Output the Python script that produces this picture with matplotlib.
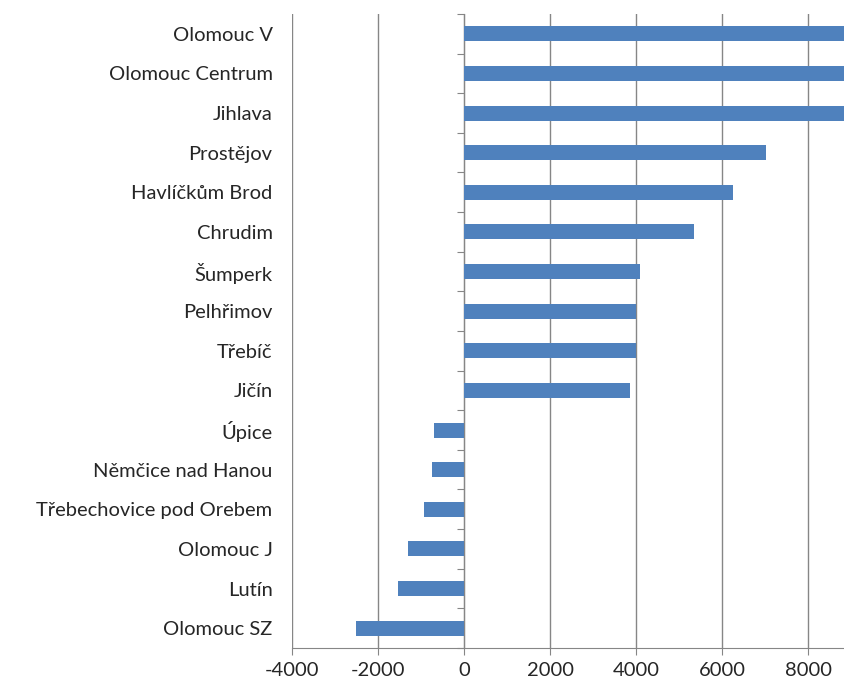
import numpy as np
import matplotlib
matplotlib.use("Agg")
import matplotlib.pyplot as plt

plt.rcParams.update({"font.family": ["Lato", "DejaVu Sans"], "font.size": 14.5})

# categories top -> bottom as shown in the chart
labels = ["Olomouc V", "Olomouc Centrum", "Jihlava", "Prostějov", "Havlíčkům Brod",
          "Chrudim", "Šumperk", "Pelhřimov", "Třebíč", "Jičín", "Úpice",
          "Němčice nad Hanou", "Třebechovice pod Orebem", "Olomouc J", "Lutín",
          "Olomouc SZ"]
values = [10500, 10000, 9600, 7030, 6250, 5340, 4100, 4010, 3990, 3870,
          -700, -750, -940, -1300, -1540, -2510]
xticks = [-4000, -2000, 0, 2000, 4000, 6000, 8000]

BLUE, GRID, TXT = "#4f81bd", "#868686", "#262626"

fig = plt.figure(figsize=(8.44, 6.92), dpi=100)
ax = fig.add_axes([0.346, 0.0636, 0.654, 0.9162])
n = len(labels)
ypos = np.arange(n)
ax.barh(ypos, values, height=0.38, color=BLUE, zorder=3)
ax.set_ylim(n - 0.5, -0.5)
ax.set_xlim(-4000, 8837)

ax.set_xticks(xticks)
ax.set_xticklabels([str(t) for t in xticks], color=TXT)
ax.set_yticks(ypos)
ax.set_yticklabels(labels, color=TXT)
ax.tick_params(axis="y", length=0, pad=14)
ax.tick_params(axis="x", length=5, color=GRID, pad=5)
ax.grid(axis="x", color=GRID, lw=1.0, zorder=0)

for s in ["top", "right", "left"]:
    ax.spines[s].set_visible(False)
ax.spines["bottom"].set_color(GRID)

# category axis crossing at zero, with tick marks between categories
frac = (0 - ax.get_xlim()[0]) / (ax.get_xlim()[1] - ax.get_xlim()[0])
sec = ax.secondary_yaxis(frac)
sec.set_yticks(np.arange(n + 1) - 0.5)
sec.set_yticklabels([])
sec.tick_params(axis="y", length=5, color=GRID, direction="out")
sec.spines["left"].set_color(GRID)

fig.savefig("out.png", dpi=100)
